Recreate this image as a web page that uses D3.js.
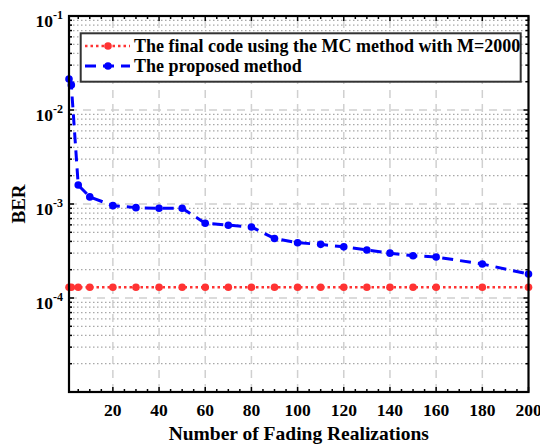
<!DOCTYPE html>
<html><head><meta charset="utf-8">
<script src="https://cdn.jsdelivr.net/npm/d3@7"></script>
<style>body{margin:0;background:#fff}svg{display:block}text{font-family:"Liberation Serif","Times New Roman",serif;font-weight:bold;fill:#000}</style>
</head><body>
<svg id="c" width="540" height="446"></svg>
<script>
const realizations = [1,2,5,10,20,30,40,50,60,70,80,90,100,110,120,130,140,150,160,180,200];
const mcBER = [1.3e-4,1.3e-4,1.3e-4,1.3e-4,1.3e-4,1.3e-4,1.3e-4,1.3e-4,1.3e-4,1.3e-4,1.3e-4,1.3e-4,1.3e-4,1.3e-4,1.3e-4,1.3e-4,1.3e-4,1.3e-4,1.3e-4,1.3e-4,1.3e-4];
const proposedBER = [0.0214,0.0185,0.00159,0.00119,9.6e-4,9.15e-4,9.0e-4,9.0e-4,6.25e-4,5.95e-4,5.7e-4,4.3e-4,3.87e-4,3.72e-4,3.5e-4,3.24e-4,3.0e-4,2.82e-4,2.73e-4,2.3e-4,1.8e-4];
const xTicks = [20,40,60,80,100,120,140,160,180,200];
const yDecades = [-5,-4,-3,-2,-1];
const legendLabels = ["The final code using the MC method with M=2000","The proposed method"];

const L=69,R=528.5,T=16,B=392;
const svg=d3.select("#c");
const x=d3.scaleLinear().domain([1,200]).range([L,R]);
const y=d3.scaleLog().domain([1e-5,1e-1]).range([B,T]);

// grid
const g=svg.append("g");
const minorY=[];
for(let e=-5;e<-1;e++) for(let m=2;m<=9;m++) minorY.push(m*Math.pow(10,e));
g.selectAll(".my").data(minorY).enter().append("line")
 .attr("x1",L).attr("x2",R).attr("y1",d=>y(d)).attr("y2",d=>y(d))
 .attr("stroke","#a8a8a8").attr("stroke-width",1.3).attr("stroke-dasharray","1.5,2.5");
g.selectAll(".My").data(yDecades.slice(1,4)).enter().append("line")
 .attr("x1",L).attr("x2",R).attr("y1",d=>y(Math.pow(10,d))).attr("y2",d=>y(Math.pow(10,d)))
 .attr("stroke","#d0d0d0").attr("stroke-width",1.5).attr("stroke-dasharray","8,6");
g.selectAll(".Mx").data(xTicks.slice(0,-1)).enter().append("line")
 .attr("x1",d=>x(d)).attr("x2",d=>x(d)).attr("y1",B).attr("y2",T)
 .attr("stroke","#d0d0d0").attr("stroke-width",1.5).attr("stroke-dasharray","8,6");

// ticks
const minorX=d3.range(5,200,5).filter(v=>v%20!==0);
const tk=svg.append("g").attr("stroke","#000").attr("stroke-width",1.5);
function xt(vals,len){vals.forEach(v=>{tk.append("line").attr("x1",x(v)).attr("x2",x(v)).attr("y1",B).attr("y2",B-len);tk.append("line").attr("x1",x(v)).attr("x2",x(v)).attr("y1",T).attr("y2",T+len);});}
function yt(vals,len){vals.forEach(v=>{tk.append("line").attr("y1",y(v)).attr("y2",y(v)).attr("x1",L).attr("x2",L+len);tk.append("line").attr("y1",y(v)).attr("y2",y(v)).attr("x1",R).attr("x2",R-len);});}
xt(xTicks,5);xt(minorX,3);
yt(yDecades.map(e=>Math.pow(10,e)),5);yt(minorY,3);

// lines
const line=d3.line().x(d=>x(d[0])).y(d=>y(d[1]));
const mcData=realizations.map((r,i)=>[r,mcBER[i]]);
const prData=realizations.map((r,i)=>[r,proposedBER[i]]);
const red="#ff3333",blue="#0000ff";
svg.append("path").datum(mcData).attr("d",line).attr("fill","none").attr("stroke",red).attr("stroke-width",2.5).attr("stroke-dasharray","2.5,3");
svg.selectAll(".mcp").data(mcData).enter().append("circle").attr("cx",d=>x(d[0])).attr("cy",d=>y(d[1])).attr("r",3.8).attr("fill",red);
svg.append("path").datum(prData).attr("d",line).attr("fill","none").attr("stroke",blue).attr("stroke-width",3).attr("stroke-dasharray","11,7");
svg.selectAll(".prp").data(prData).enter().append("circle").attr("cx",d=>x(d[0])).attr("cy",d=>y(d[1])).attr("r",3.8).attr("fill",blue);

// axes box
svg.append("rect").attr("x",L).attr("y",T).attr("width",R-L).attr("height",B-T).attr("fill","none").attr("stroke","#000").attr("stroke-width",2.2);

// tick labels
svg.selectAll(".xl").data(xTicks).enter().append("text").attr("x",d=>x(d)).attr("y",416).attr("text-anchor","middle").attr("font-size",17.5).text(d=>d);
yDecades.slice(1).forEach(e=>{
  const t=svg.append("text").attr("x",63).attr("y",y(Math.pow(10,e))+11).attr("text-anchor","end").attr("font-size",17.5);
  t.append("tspan").text("10");
  t.append("tspan").attr("dy",-8).attr("font-size",12).text(String(e));
});
svg.append("text").attr("x",(L+R)/2).attr("y",440).attr("text-anchor","middle").attr("font-size",19.5).text("Number of Fading Realizations");
svg.append("text").attr("transform",`translate(25,${(T+B)/2}) rotate(-90)`).attr("text-anchor","middle").attr("font-size",19).text("BER");

// legend
const lg=svg.append("g");
lg.append("rect").attr("x",80.7).attr("y",33.3).attr("width",440).attr("height",48.4).attr("fill","#fff").attr("stroke","#333").attr("stroke-width",2);
const rows=[{c:red,dash:"2.5,3",w:2.5,y:46},{c:blue,dash:"11,7",w:3,y:66}];
rows.forEach((r,i)=>{
  lg.append("line").attr("x1",85).attr("x2",130).attr("y1",r.y).attr("y2",r.y).attr("stroke",r.c).attr("stroke-width",r.w).attr("stroke-dasharray",r.dash);
  lg.append("circle").attr("cx",108).attr("cy",r.y).attr("r",3.8).attr("fill",r.c);
  lg.append("text").attr("x",134).attr("y",r.y+6).attr("font-size",18).text(legendLabels[i]);
});
</script>
</body></html>
